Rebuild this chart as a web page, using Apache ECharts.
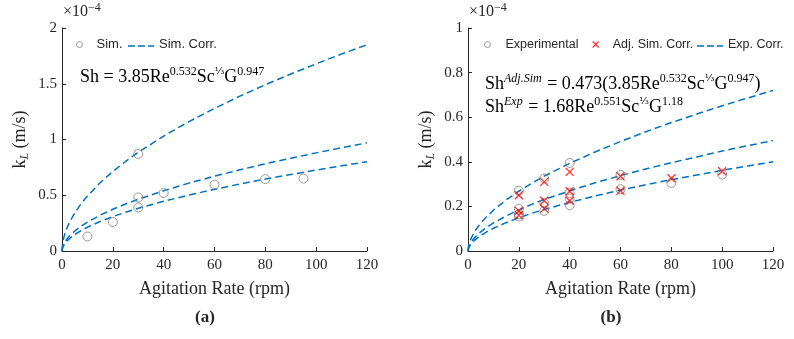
<!DOCTYPE html>
<html>
<head>
<meta charset="utf-8">
<script src="https://cdn.jsdelivr.net/npm/echarts@6/dist/echarts.min.js"></script>
<style>
  html, body { margin: 0; background: #fff; }
  #chart { width: 794px; height: 339px; }
</style>
</head>
<body>
<div id="chart"></div>
<script>
var curveRpm = [0, 0.25, 0.5, 1, 2, 3, 5, 7.5, 10, 15, 20, 25, 30, 40, 50, 60, 70, 80, 90, 100, 110, 120]

// (a) simulation, k_L in 1e-4 m/s
var simRpm = [10, 20, 30, 30, 30, 40, 60, 80, 95]
var simKl = [0.13, 0.26, 0.87, 0.48, 0.39, 0.52, 0.595, 0.645, 0.65]
var simCorrHigh = [0, 0.069, 0.100, 0.145, 0.210, 0.260, 0.341, 0.423, 0.493, 0.612, 0.713, 0.803, 0.885, 1.031, 1.161, 1.279, 1.389, 1.491, 1.587, 1.679, 1.767, 1.85]
var simCorrMid = [0, 0.036, 0.053, 0.076, 0.110, 0.136, 0.179, 0.222, 0.259, 0.321, 0.374, 0.421, 0.464, 0.541, 0.609, 0.671, 0.728, 0.782, 0.832, 0.880, 0.926, 0.97]
var simCorrLow = [0, 0.030, 0.043, 0.063, 0.091, 0.112, 0.148, 0.183, 0.213, 0.265, 0.308, 0.347, 0.383, 0.446, 0.502, 0.553, 0.601, 0.645, 0.686, 0.726, 0.764, 0.80]

// (b) experiment vs adjusted simulation
var expRpm = [20, 20, 20, 20, 30, 30, 30, 40, 40, 40, 40, 60, 60, 80, 100]
var expKl = [0.27, 0.19, 0.165, 0.155, 0.325, 0.215, 0.18, 0.395, 0.26, 0.235, 0.205, 0.341, 0.277, 0.305, 0.343]
var adjRpm = [20, 20, 20, 30, 30, 30, 40, 40, 40, 60, 60, 80, 100]
var adjKl = [0.25, 0.18, 0.16, 0.31, 0.225, 0.19, 0.355, 0.268, 0.225, 0.335, 0.27, 0.326, 0.358]
var expCorrHigh = [0, 0.024, 0.035, 0.051, 0.075, 0.094, 0.125, 0.156, 0.183, 0.229, 0.268, 0.303, 0.336, 0.393, 0.444, 0.491, 0.535, 0.576, 0.614, 0.651, 0.686, 0.72]
var expCorrMid = [0, 0.016, 0.024, 0.035, 0.052, 0.065, 0.086, 0.107, 0.126, 0.157, 0.184, 0.209, 0.231, 0.270, 0.306, 0.338, 0.368, 0.396, 0.422, 0.448, 0.472, 0.495]
var expCorrLow = [0, 0.013, 0.020, 0.029, 0.042, 0.052, 0.069, 0.087, 0.102, 0.127, 0.149, 0.169, 0.186, 0.218, 0.247, 0.273, 0.297, 0.320, 0.341, 0.362, 0.381, 0.40]

var serif = '"Liberation Serif", "DejaVu Serif", serif'
var sans = '"Liberation Sans", Arial, sans-serif'
var ink = '#262626'
var blue = '#0072BD'
var cross = 'path://M0 0L10 10M10 0L0 10'

function pairs(xs, ys) {
  return xs.map(function (x, i) { return [x, ys[i]] })
}

function xAxisFor(idx) {
  return {
    gridIndex: idx, type: 'value', min: 0, max: 120, interval: 20,
    name: 'Agitation Rate (rpm)', nameLocation: 'middle', nameGap: 29,
    nameTextStyle: { fontFamily: serif, fontSize: 18, color: ink },
    axisLine: { onZero: false, lineStyle: { color: ink, width: 1 } },
    axisTick: { inside: true, length: 4, lineStyle: { color: ink } },
    axisLabel: { fontFamily: serif, fontSize: 15, color: ink, margin: 7 },
    splitLine: { show: false }
  }
}

function yAxisFor(idx, max, step) {
  return {
    gridIndex: idx, type: 'value', min: 0, max: max, interval: step,
    name: '{n|k}{sub|L} {n|(m/s)}', nameLocation: 'middle', nameGap: 31,
    nameTextStyle: {
      fontFamily: serif, fontSize: 18, color: ink,
      rich: {
        n: { fontFamily: serif, fontSize: 18, color: ink, lineHeight: 22 },
        sub: { fontFamily: serif, fontSize: 12, fontStyle: 'italic', color: ink, verticalAlign: 'bottom', lineHeight: 12 }
      }
    },
    axisLine: { show: true, lineStyle: { color: ink, width: 1 } },
    axisTick: { show: true, inside: true, length: 4, lineStyle: { color: ink } },
    axisLabel: { fontFamily: serif, fontSize: 15, color: ink, margin: 5 },
    splitLine: { show: false }
  }
}

function corrLine(name, idx, ys) {
  return {
    name: name, type: 'line', xAxisIndex: idx, yAxisIndex: idx,
    data: pairs(curveRpm, ys), symbol: 'none', showSymbol: false,
    lineStyle: { color: blue, width: 1.5, type: [7, 4] },
    itemStyle: { color: blue }, z: 2
  }
}

// one legend per entry so each icon/text sits where the original has it
function legendItem(left, name, opts) {
  return {
    left: left, top: 38, padding: 0, selectedMode: false,
    itemWidth: opts.w, itemHeight: 6,
    textStyle: { fontFamily: sans, fontSize: opts.size || 13, color: ink, padding: [0, 0, 0, opts.pad || 0] },
    data: [{ name: name, icon: opts.icon, itemStyle: opts.style }]
  }
}

// dashed swatch for the correlation legend entries (legend's own line icon adds a dot)
function dashSwatch(x) {
  return {
    type: 'line', shape: { x1: x, y1: 46, x2: x + 26, y2: 46 },
    style: { stroke: blue, lineWidth: 1.5, lineDash: [7, 3] }
  }
}

var eqRich = {
  m: { fontFamily: serif, fontSize: 18, fill: '#000', lineHeight: 22 },
  s: { fontFamily: serif, fontSize: 12, fill: '#000', verticalAlign: 'top', lineHeight: 12 },
  si: { fontFamily: serif, fontSize: 12, fontStyle: 'italic', fill: '#000', verticalAlign: 'top', lineHeight: 12, padding: [0, 1, 0, 0] },
  f: { fontFamily: '"DejaVu Serif", serif', fontSize: 10, fill: '#000', verticalAlign: 'top', lineHeight: 12 }
}

function eqText(left, top, text) {
  return { type: 'text', left: left, top: top, style: { text: text, rich: eqRich } }
}

function caption(cx, top, text) {
  return {
    type: 'text', x: cx, y: top,
    style: { text: text, fontFamily: serif, fontSize: 17, fontWeight: 'bold', fill: ink, textAlign: 'center' }
  }
}

var expRich = {
  b: { fontFamily: serif, fontSize: 16, fill: ink, lineHeight: 20 },
  e: { fontFamily: serif, fontSize: 12, fill: ink, verticalAlign: 'top', lineHeight: 12 }
}

var chart = echarts.init(document.getElementById('chart'))
var option = {
  animation: false,
  backgroundColor: '#fff',
  grid: [
    { left: 62, right: 427, top: 28, bottom: 88 },
    { left: 468, right: 21, top: 28, bottom: 88 }
  ],
  xAxis: [xAxisFor(0), xAxisFor(1)],
  yAxis: [yAxisFor(0, 2, 0.5), yAxisFor(1, 1, 0.2)],
  legend: [
    legendItem(76, 'Sim.', { w: 6, pad: 9, icon: 'circle', style: { borderWidth: 1 } }),
    legendItem(128, 'Sim. Corr.', { w: 26, icon: 'none' }),
    legendItem(484, 'Experimental', { w: 6, pad: 10, size: 12.5, icon: 'circle', style: { borderWidth: 1 } }),
    legendItem(592, 'Adj. Sim. Corr.', { w: 6, pad: 9, size: 12.5, icon: cross, style: { borderWidth: 1.3 } }),
    legendItem(697, 'Exp. Corr.', { w: 26, size: 12.5, icon: 'none' })
  ],
  graphic: [
    dashSwatch(128),
    dashSwatch(697),
    { type: 'text', left: 63, top: 2, style: { text: '{b|×10}{e|−4}', rich: expRich } },
    { type: 'text', left: 469, top: 2, style: { text: '{b|×10}{e|−4}', rich: expRich } },
    eqText(80, 66, '{m|Sh = 3.85Re}{s|0.532}{m|Sc}{f|⅓}{m|G}{s|0.947}'),
    eqText(485, 73, '{m|Sh}{si|Adj.Sim}{m| = 0.473(3.85Re}{s|0.532}{m|Sc}{f|⅓}{m|G}{s|0.947}{m|)}'),
    eqText(485, 96, '{m|Sh}{si|Exp}{m| = 1.68Re}{s|0.551}{m|Sc}{f|⅓}{m|G}{s|1.18}'),
    caption(205, 309, '(a)'),
    caption(611, 309, '(b)')
  ],
  series: [
    corrLine('Sim. Corr.', 0, simCorrHigh),
    corrLine('Sim. Corr.', 0, simCorrMid),
    corrLine('Sim. Corr.', 0, simCorrLow),
    {
      name: 'Sim.', type: 'scatter', xAxisIndex: 0, yAxisIndex: 0,
      data: pairs(simRpm, simKl), symbol: 'circle', symbolSize: 9,
      itemStyle: { color: 'rgba(0,0,0,0)', borderColor: '#7f7f7f', borderWidth: 1 }, z: 3
    },
    corrLine('Exp. Corr.', 1, expCorrHigh),
    corrLine('Exp. Corr.', 1, expCorrMid),
    corrLine('Exp. Corr.', 1, expCorrLow),
    {
      name: 'Experimental', type: 'scatter', xAxisIndex: 1, yAxisIndex: 1,
      data: pairs(expRpm, expKl), symbol: 'circle', symbolSize: 9,
      itemStyle: { color: 'rgba(0,0,0,0)', borderColor: '#7f7f7f', borderWidth: 1 }, z: 3
    },
    {
      name: 'Adj. Sim. Corr.', type: 'scatter', xAxisIndex: 1, yAxisIndex: 1,
      data: pairs(adjRpm, adjKl), symbol: cross, symbolSize: 8,
      itemStyle: { color: '#ff0000', borderColor: '#ff0000', borderWidth: 1.3 }, z: 4
    }
  ]
}
chart.setOption(option)
</script>
</body>
</html>
